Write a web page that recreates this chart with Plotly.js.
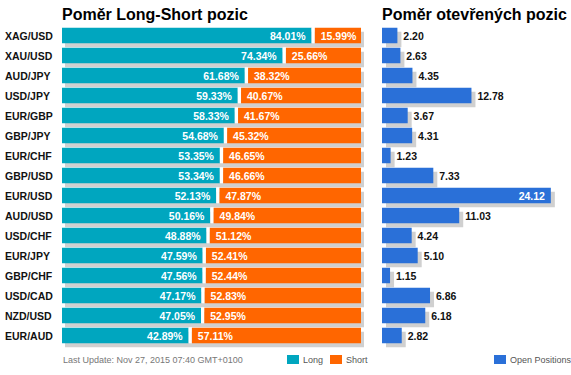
<!DOCTYPE html>
<html>
<head>
<meta charset="utf-8">
<script src="https://cdn.plot.ly/plotly-3.0.1.min.js"></script>
<style>html,body{margin:0;padding:0;background:#fff;}#chart{width:571px;height:375px;}</style>
</head>
<body>
<div id="chart"></div>
<script>
const categories = ['XAG/USD','XAU/USD','AUD/JPY','USD/JPY','EUR/GBP','GBP/JPY','EUR/CHF','GBP/USD','EUR/USD','AUD/USD','USD/CHF','EUR/JPY','GBP/CHF','USD/CAD','NZD/USD','EUR/AUD'];
const longPct = [84.01,74.34,61.68,59.33,58.33,54.68,53.35,53.34,52.13,50.16,48.88,47.59,47.56,47.17,47.05,42.89];
const shortPct = [15.99,25.66,38.32,40.67,41.67,45.32,46.65,46.66,47.87,49.84,51.12,52.41,52.44,52.83,52.95,57.11];
const openPos = [2.20,2.63,4.35,12.78,3.67,4.31,1.23,7.33,24.12,11.03,4.24,5.10,1.15,6.86,6.18,2.82];

const titleLeft = 'Poměr Long-Short pozic';
const titleRight = 'Poměr otevřených pozic';
const lastUpdate = 'Last Update: Nov 27, 2015 07:40 GMT+0100';
const legendLong = 'Long', legendShort = 'Short', legendOpen = 'Open Positions';

const W = 571, H = 375;
const TEAL = '#00a6bf', ORANGE = '#ff6600', BLUE = '#2a70d8', SHADOW = '#d0d0d0';
const FONT = 'Liberation Sans, Arial, sans-serif';
const NARROW = 'Liberation Sans Narrow, Arial Narrow, Liberation Sans, Arial, sans-serif';
const NB = '\u00a0';

const GAP = 1.1;       // white gap between long and short, in % units
const BW = 0.78;       // bar width (category fraction)
const RMAX = 27;       // right axis max
const px = v => v / W;
const py = v => 1 - v / H;

const totals = longPct.map((v, i) => v + shortPct[i]);
const longEnd = longPct.map(v => v - GAP / 2);
const shortStart = longPct.map(v => v + GAP / 2);
const shortLen = shortPct.map(v => v - GAP / 2);
const gapArr = longPct.map(() => GAP);

const inside = openPos.map(v => v > RMAX * 0.85);

const traces = [
  // shadows
  {type:'bar', orientation:'h', x: totals, y: categories, xaxis:'x', yaxis:'y', width: BW,
   marker:{color:SHADOW}, hoverinfo:'skip', showlegend:false},
  {type:'bar', orientation:'h', x: openPos, y: categories, xaxis:'x2', yaxis:'y2', width: BW,
   marker:{color:SHADOW}, hoverinfo:'skip', showlegend:false},
  // main left
  {type:'bar', orientation:'h', name: legendLong, x: longEnd, base: 0, y: categories, xaxis:'x3', yaxis:'y3', width: BW,
   marker:{color:TEAL}, text: longPct.map(v => v.toFixed(2) + '%' + NB), textposition:'inside', insidetextanchor:'end',
   constraintext:'none', textangle:0, insidetextfont:{family:FONT, size:10.5, color:'#fff', weight:'bold'}, showlegend:false},
  {type:'bar', orientation:'h', x: gapArr, base: longEnd, y: categories, xaxis:'x3', yaxis:'y3', width: BW,
   marker:{color:'#ffffff'}, hoverinfo:'skip', showlegend:false},
  {type:'bar', orientation:'h', name: legendShort, x: shortLen, base: shortStart, y: categories, xaxis:'x3', yaxis:'y3', width: BW,
   marker:{color:ORANGE}, text: shortPct.map(v => NB + v.toFixed(2) + '%'), textposition:'inside', insidetextanchor:'start',
   constraintext:'none', textangle:0, insidetextfont:{family:FONT, size:10.5, color:'#fff', weight:'bold'}, showlegend:false},
  // main right
  {type:'bar', orientation:'h', name: legendOpen, x: openPos, y: categories, xaxis:'x4', yaxis:'y4', width: BW,
   marker:{color:BLUE}, text: openPos.map((v, i) => inside[i] ? v.toFixed(2) + NB : NB + v.toFixed(2)),
   textposition: inside.map(b => b ? 'inside' : 'outside'), insidetextanchor:'end', constraintext:'none', textangle:0, cliponaxis:false,
   insidetextfont:{family:FONT, size:10.5, color:'#fff', weight:'bold'},
   outsidetextfont:{family:FONT, size:10.5, color:'#111', weight:'bold'}, showlegend:false}
];

const yMain = [py(345.5), py(25.5)];
const yShadow = [py(349.5), py(29.5)];
const hidden = {showgrid:false, zeroline:false, showticklabels:false, showline:false, ticks:'', fixedrange:true};
const yCat = Object.assign({}, hidden, {type:'category', categoryorder:'array', categoryarray: categories, range:[15.5, -0.5]});

const layout = {
  width: W, height: H,
  margin:{l:0, r:0, t:0, b:0},
  paper_bgcolor:'#fff', plot_bgcolor:'rgba(0,0,0,0)',
  barmode:'overlay', showlegend:false,
  font:{family:FONT},
  xaxis: Object.assign({}, hidden, {domain:[px(65), px(364)], range:[0,100], anchor:'y'}),
  yaxis: Object.assign({}, yCat, {domain: yShadow, anchor:'x'}),
  xaxis2: Object.assign({}, hidden, {domain:[px(386), 1], range:[0, RMAX * (W - 386) / (W - 382)], anchor:'y2'}),
  yaxis2: Object.assign({}, yCat, {domain: yShadow, anchor:'x2'}),
  xaxis3: Object.assign({}, hidden, {domain:[px(62), px(361)], range:[0,100], anchor:'y3'}),
  yaxis3: Object.assign({}, yCat, {domain: yMain, anchor:'x3'}),
  xaxis4: Object.assign({}, hidden, {domain:[px(382), 1], range:[0, RMAX], anchor:'y4'}),
  yaxis4: Object.assign({}, yCat, {domain: yMain, anchor:'x4'}),
  annotations: [],
  shapes: []
};

categories.forEach(c => {
  layout.annotations.push({xref:'paper', yref:'y3', x: px(3), y: c, xanchor:'left', yanchor:'middle',
    text: c, showarrow:false, font:{family:FONT, size:10.5, color:'#111', weight:'bold'}});
});

layout.annotations.push({xref:'paper', yref:'paper', x: px(60), y: py(14.5), xanchor:'left', yanchor:'middle',
  text: titleLeft, showarrow:false, font:{family:FONT, size:16, color:'#000', weight:'bold'}});
layout.annotations.push({xref:'paper', yref:'paper', x: px(380), y: py(14.5), xanchor:'left', yanchor:'middle',
  text: titleRight, showarrow:false, font:{family:FONT, size:16, color:'#000', weight:'bold'}});
layout.annotations.push({xref:'paper', yref:'paper', x: px(61), y: py(360), xanchor:'left', yanchor:'middle',
  text: lastUpdate, showarrow:false, font:{family:NARROW, size:9, color:'#777'}});

const legendItems = [
  {label: legendLong, color: TEAL, x: 287},
  {label: legendShort, color: ORANGE, x: 330},
  {label: legendOpen, color: BLUE, x: 494}
];
legendItems.forEach(it => {
  layout.shapes.push({type:'rect', xref:'paper', yref:'paper', x0: px(it.x), x1: px(it.x + 12), y0: py(364), y1: py(355),
    fillcolor: it.color, line:{width:0}});
  layout.annotations.push({xref:'paper', yref:'paper', x: px(it.x + 14), y: py(359.5), xanchor:'left', yanchor:'middle',
    text: it.label, showarrow:false, font:{family:NARROW, size:9, color:'#555'}});
});

Plotly.newPlot('chart', traces, layout, {displayModeBar:false, staticPlot:true});
</script>
</body>
</html>
